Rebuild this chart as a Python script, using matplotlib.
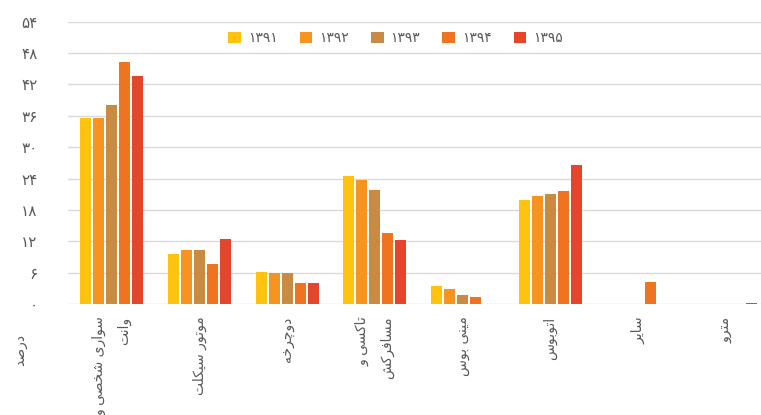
import numpy as np
import matplotlib
matplotlib.use("Agg")
import matplotlib.pyplot as plt

# --- data ---
categories = ["سواری شخصی و\nوانت", "موتور سیکلت", "دوچرخه", "تاکسی و\nمسافرکش",
              "مینی بوس", "اتوبوس", "سایر", "مترو"]
years = ["۱۳۹۱", "۱۳۹۲", "۱۳۹۳", "۱۳۹۴", "۱۳۹۵"]
v1391 = [35.5, 9.5, 6.2, 24.5, 3.5, 19.9, 0, 0]
v1392 = [35.5, 10.3, 6.0, 23.8, 2.9, 20.7, 0, 0]
v1393 = [38.0, 10.3, 6.0, 21.9, 1.8, 21.1, 0, 0]
v1394 = [46.3, 7.7, 4.0, 13.6, 1.4, 21.7, 4.2, 0]
v1395 = [43.6, 12.4, 4.0, 12.2, 0, 26.6, 0, 0.2]
yticks = [0, 6, 12, 18, 24, 30, 36, 42, 48, 54]
ytick_labels = ["۰", "۶", "۱۲", "۱۸", "۲۴", "۳۰", "۳۶", "۴۲", "۴۸", "۵۴"]
ylabel = "درصد"

colors = ["#FFC20E", "#F8931F", "#C98A42", "#EE7420", "#E5452B"]

# --- minimal Persian shaping (matplotlib has no bidi / joining) ---
BASE = {'ا': (0xFE8D, False), 'ب': (0xFE8F, True), 'ت': (0xFE95, True),
        'خ': (0xFEA5, True), 'د': (0xFEA9, False), 'ر': (0xFEAD, False),
        'س': (0xFEB1, True), 'ش': (0xFEB5, True), 'ص': (0xFEB9, True),
        'ف': (0xFED1, True), 'ل': (0xFEDD, True), 'م': (0xFEE1, True),
        'ن': (0xFEE5, True), 'ه': (0xFEE9, True), 'و': (0xFEED, False),
        'ی': (0xFBFC, True), 'ک': (0xFB8E, True), 'چ': (0xFB7A, True)}


def fa(text):
    lines = []
    for line in text.split("\n"):
        out = []
        for i, ch in enumerate(line):
            if ch not in BASE:
                out.append(ch)
                continue
            code, dual = BASE[ch]
            prev = line[i - 1] if i > 0 else ""
            nxt = line[i + 1] if i + 1 < len(line) else ""
            join_prev = prev in BASE and BASE[prev][1]
            join_next = dual and nxt in BASE
            form = {(False, False): 0, (True, False): 1,
                    (False, True): 2, (True, True): 3}[(join_prev, join_next)]
            out.append(chr(code + form))
        lines.append("".join(reversed(out)))
    return "\n".join(lines)


plt.rcParams["font.family"] = ["DejaVu Sans"]

fig = plt.figure(figsize=(7.61, 4.15), dpi=100)
ax = fig.add_axes([68 / 761, 111 / 415, 701.5 / 761, 282.3 / 415])

x = np.arange(len(categories))
series = [v1391, v1392, v1393, v1394, v1395]
slot = 0.148
for i, vals in enumerate(series):
    ax.bar(x + (i - 2) * slot, vals, width=0.125, color=colors[i],
           label=years[i], zorder=3)

ax.set_xlim(-0.5, len(categories) - 0.5)
ax.set_ylim(0, 54)
ax.set_yticks(yticks)
ax.set_yticklabels(ytick_labels, color="#595959", fontsize=11)
ax.set_xticks(x)
ax.set_xticklabels([fa(c) for c in categories], rotation=90, ha="center",
                   va="top", multialignment="right", color="#595959",
                   fontsize=10, linespacing=1.9)
ax.tick_params(axis="both", length=0)
ax.tick_params(axis="y", pad=22)
ax.tick_params(axis="x", pad=9)
ax.yaxis.grid(True, color="#D9D9D9", linewidth=1, zorder=0)
for s in ax.spines.values():
    s.set_visible(False)

fig.legend(loc="center", bbox_to_anchor=(0.52, 0.908), ncol=5, frameon=False,
           fontsize=10, handlelength=0.9, handleheight=0.9, handletextpad=0.5,
           columnspacing=1.6, labelcolor="#595959")

fig.text(20 / 761, 1 - 350 / 415, fa(ylabel), rotation=90, ha="center",
         va="center", color="#595959", fontsize=10)

fig.savefig("out.png", dpi=100)
